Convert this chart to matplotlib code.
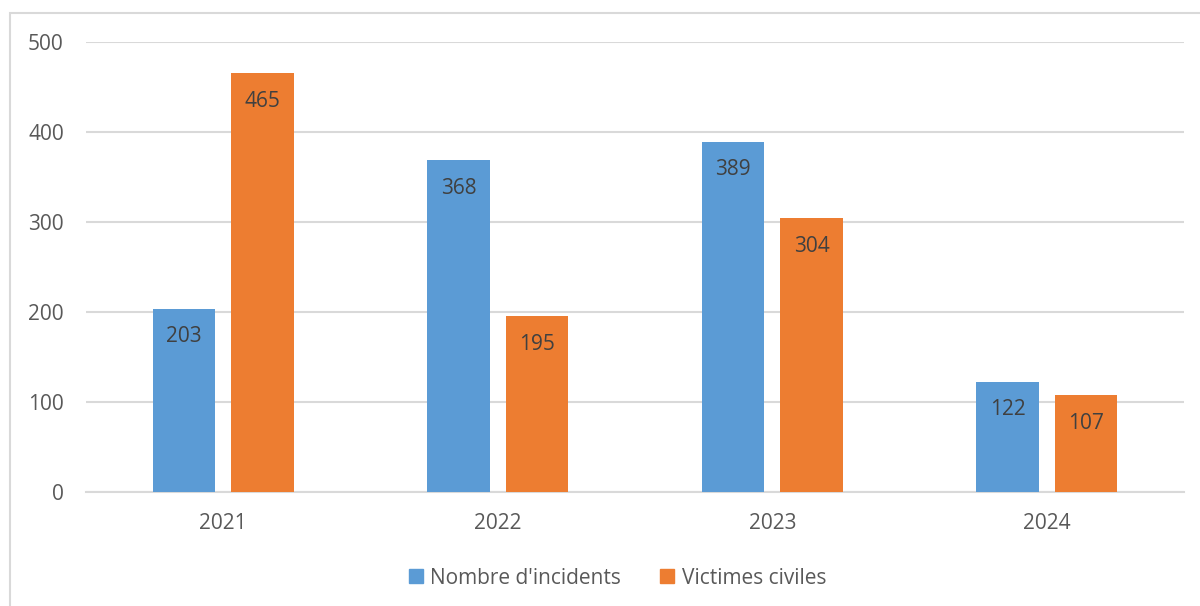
import matplotlib
matplotlib.use("Agg")
import matplotlib.pyplot as plt
import numpy as np
from matplotlib.patches import Rectangle
from matplotlib.lines import Line2D

years = ["2021", "2022", "2023", "2024"]
incidents = [203, 368, 389, 122]
victimes = [465, 195, 304, 107]
series_names = ["Nombre d'incidents", "Victimes civiles"]
yticks = [0, 100, 200, 300, 400, 500]

BLUE = "#5B9BD5"
ORANGE = "#ED7D31"
TXT = "#595959"
GRID = "#D9D9D9"

plt.rcParams["font.family"] = ["Open Sans", "DejaVu Sans"]

fig = plt.figure(figsize=(12, 6.06), dpi=100)
ax = fig.add_axes([86 / 1200, 1 - 491.7 / 606, (1184 - 86) / 1200, (491.7 - 41.7) / 606])

# outer chart border (only left and top visible in the crop)
fig.patches.append(Rectangle((10 / 1200, -0.1), 1.2, 1 - 13 / 606 + 0.1,
                             transform=fig.transFigure, fill=False,
                             edgecolor=GRID, linewidth=1.5))

x = np.arange(len(years))
w = 0.226
off = 0.143
b1 = ax.bar(x - off, incidents, w, color=BLUE, zorder=3)
b2 = ax.bar(x + off, victimes, w, color=ORANGE, zorder=3)

for bars in (b1, b2):
    for rect in bars:
        h = rect.get_height()
        ax.annotate(f"{h:.0f}", (rect.get_x() + rect.get_width() / 2, h),
                    xytext=(0, -28), textcoords="offset pixels",
                    ha="center", va="center", fontsize=15, color="#404040", zorder=4)

ax.set_xlim(-0.5, len(years) - 0.5)
ax.set_ylim(0, 500)
ax.set_yticks(yticks)
ax.set_xticks(x)
ax.set_xticklabels(years)
ax.yaxis.grid(True, color=GRID, linewidth=1.5, zorder=0)
ax.set_axisbelow(True)
for s in ("top", "right", "left"):
    ax.spines[s].set_visible(False)
ax.spines["bottom"].set_color(GRID)
ax.spines["bottom"].set_linewidth(1.5)
ax.tick_params(axis="both", length=0, labelsize=15, colors=TXT)
ax.tick_params(axis="y", pad=16)
ax.tick_params(axis="x", pad=15)

handles = [Line2D([], [], marker="s", linestyle="", markersize=10, color=c)
           for c in (BLUE, ORANGE)]
fig.legend(handles, series_names, loc="center", bbox_to_anchor=(0.514, 1 - 578 / 606),
           ncol=2, frameon=False, fontsize=15, labelcolor=TXT,
           handletextpad=0.3, columnspacing=1.8, handlelength=0.8)

fig.savefig("out.png", dpi=100)
